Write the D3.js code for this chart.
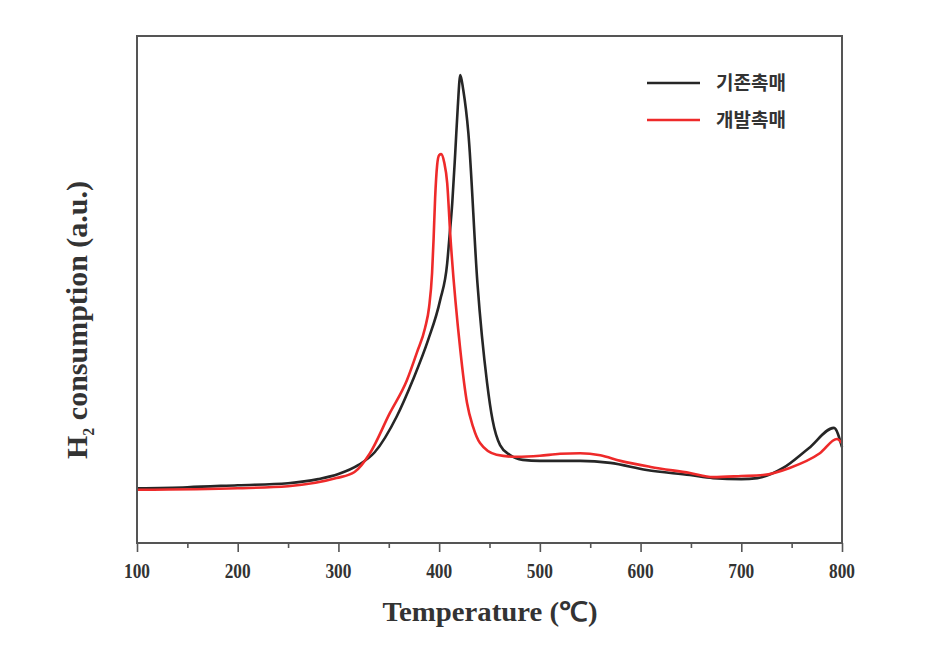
<!DOCTYPE html>
<html><head><meta charset="utf-8">
<script src="https://cdn.jsdelivr.net/npm/d3@7"></script>
<style>body{margin:0;background:#fff}</style>
</head><body>
<svg id="c" width="931" height="668"></svg>
<script>
const seriesNames = ["기존촉매", "개발촉매"];
const seriesColors = ["#262626", "#ee2a2a"];
const xTicks = [100, 200, 300, 400, 500, 600, 700, 800];
const xMinorTicks = [150, 250, 350, 450, 550, 650, 750];
// temperature (°C)
const blackT = [100,150,200,250,280,300,320,336,358,374,389,401,408,410,413,416,418.5,421,424,429,438,447.6,453,460.5,470,483,500,540,570,606,649,672,700,716,741.5,767,792,800];
const blackV = [10.8,11.0,11.4,11.8,12.6,13.6,15.4,17.9,25.0,32.2,40.0,47.9,55.2,59.8,67,77,86,92.3,89.3,80.9,51.3,31.6,24.3,19.3,17.4,16.4,16.2,16.2,15.8,14.4,13.4,12.8,12.6,12.8,14.8,18.7,22.7,18.9];
const redT = [100,200,250,298,316,331,351,368,378,386,390,393,394.5,396,398,400,402,405,408,411,421,427.7,433.7,440.6,457,477,500,520,540,560,580,610,649,672,700,721.6,748,778,795,800];
const redV = [10.5,10.8,11.2,12.8,14.0,17.6,25.6,32.1,37.6,42.4,46.5,53.3,60,68,74.5,76.5,76.7,75.1,71.0,61,38.1,27.6,22.9,19.7,17.4,17.0,17.2,17.6,17.7,17.3,16.2,15.0,13.8,13.0,13.2,13.4,14.8,17.7,20.5,19.7];

const svg = d3.select("#c");
const L = 137, R = 842, T = 36, B = 543;
const x = d3.scaleLinear().domain([100, 800]).range([L, R]);
const y = d3.scaleLinear().domain([0, 100]).range([B, T]);

const line = d3.line().x(d => x(d[0])).y(d => y(d[1])).curve(d3.curveMonotoneX);
const data = [d3.zip(blackT, blackV), d3.zip(redT, redV)];

[0,1].forEach(i => {
  svg.append("path").attr("d", line(data[i])).attr("fill","none")
    .attr("stroke", seriesColors[i]).attr("stroke-width", 2.6).attr("stroke-linejoin","round");
});

// frame
svg.append("rect").attr("x", L).attr("y", T).attr("width", R-L).attr("height", B-T)
  .attr("fill","none").attr("stroke","#555").attr("stroke-width",2);

// x axis
const ax = svg.append("g").attr("transform", `translate(0,${B})`)
  .call(d3.axisBottom(x).tickValues(xTicks).tickSize(9).tickFormat(""));
ax.select(".domain").remove();
ax.selectAll("line").attr("stroke","#555").attr("stroke-width",1.6);
const axm = svg.append("g").attr("transform", `translate(0,${B})`)
  .call(d3.axisBottom(x).tickValues(xMinorTicks).tickSize(5).tickFormat(""));
axm.select(".domain").remove();
axm.selectAll("line").attr("stroke","#555").attr("stroke-width",1.6);

svg.selectAll(".tl").data(xTicks).enter().append("text")
  .attr("x", d => x(d)).attr("y", 578).attr("text-anchor","middle")
  .attr("font-family","Liberation Serif").attr("font-weight","bold").attr("font-size",21)
  .attr("textLength",26).attr("lengthAdjust","spacingAndGlyphs")
  .attr("fill","#333").text(d => d);

svg.append("text").attr("x", 490).attr("y", 621).attr("text-anchor","middle")
  .attr("font-family","Liberation Serif").attr("font-weight","bold").attr("font-size",27)
  .attr("textLength",215).attr("lengthAdjust","spacingAndGlyphs")
  .attr("fill","#333").text("Temperature (℃)");

const yt = svg.append("text").attr("transform","translate(87,320) rotate(-90)")
  .attr("text-anchor","middle")
  .attr("font-family","Liberation Serif").attr("font-weight","bold").attr("font-size",30)
  .attr("fill","#333");
yt.append("tspan").text("H");
yt.append("tspan").attr("font-size",16).attr("dy",7).text("2");
yt.append("tspan").attr("dy",-7).text(" consumption (a.u.)");

// legend
const leg = svg.append("g");
[0,1].forEach(i => {
  const ly = 83 + i*37;
  leg.append("line").attr("x1",647).attr("x2",700).attr("y1",ly).attr("y2",ly)
    .attr("stroke",seriesColors[i]).attr("stroke-width",2.6);
  leg.append("text").attr("x",716).attr("y",ly+6.5)
    .attr("font-family","Noto Sans CJK KR").attr("font-weight","bold").attr("font-size",19)
    .attr("fill","#333").text(seriesNames[i]);
});
</script>
</body></html>
